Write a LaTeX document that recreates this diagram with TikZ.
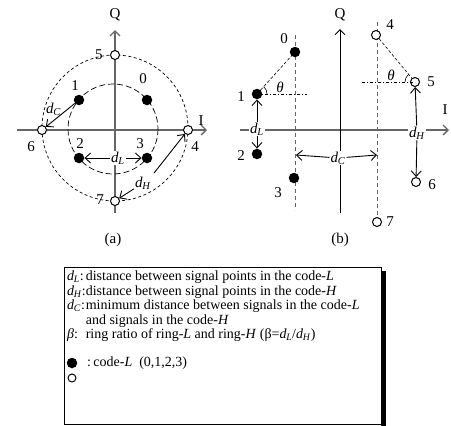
\documentclass[tikz,border=0pt]{standalone}
\usepackage{fontspec}
\setmainfont{Liberation Serif}
\usetikzlibrary{arrows.meta,positioning,calc}

\newcommand{\dsym}[1]{\textit{d}\textsubscript{\kern-0.3pt\textit{#1}}}

\tikzset{
  fillpt/.style={circle, fill=black, inner sep=0pt, minimum size=10.5pt},
  openpt/.style={circle, draw=black, fill=white, line width=1pt, inner sep=0pt, minimum size=9pt},
  axisg/.style={draw=black!60, line width=1.3pt, -{Straight Barb[length=5pt,width=10pt]}},
  sig/.style={-{Straight Barb[length=5.5pt,width=10pt]}, line width=0.9pt},
  lbl/.style={font=\fontsize{15}{17}\selectfont, inner sep=1pt},
  wlbl/.style={lbl, fill=white},
  legtext/.style={font=\fontsize{14}{14.6}\selectfont, inner sep=0pt},
}

\begin{document}
\begin{tikzpicture}[x=1pt, y=-1pt]
  \useasboundingbox (0,0) rectangle (451,426);

  % (a) the two rings
  \draw[axisg] (17,130) -- (207,130);
  \draw[axisg] (115,213) -- (115,30);
  \node[lbl] (qa) at (115,15) {Q};
  \node[lbl] (ia) at (201,121) {I};
  \draw[line width=0.7pt, dash pattern=on 3pt off 2.5pt] (115,128) circle [radius=73];
  \draw[line width=0.7pt, dash pattern=on 6pt off 3pt] (113,129) circle [radius=45];

  \node[fillpt] (a0) at (147,100) {};
  \node[fillpt] (a1) at (79,100) {};
  \node[fillpt] (a2) at (79,158) {};
  \node[fillpt] (a3) at (147,158) {};
  \node[openpt] (a4) at (188,130) {};
  \node[openpt] (a5) at (115,55) {};
  \node[openpt] (a6) at (42,130) {};
  \node[openpt] (a7) at (115,201) {};

  \node[lbl] at (143,79) {0};
  \node[lbl] at (75,86) {1};
  \node[lbl] at (80,144) {2};
  \node[lbl] at (140,144) {3};
  \node[lbl] at (195,147) {4};
  \node[lbl] at (99,55) {5};
  \node[lbl] at (31,147) {6};
  \node[lbl] at (100,200) {7};

  % distances in (a)
  \draw[sig, {Straight Barb[length=5.5pt,width=10pt]}-] (a6) -- (a1)
    node[lbl, midway, above left=-3pt] (dCa) {\dsym{C}};
  \node[wlbl] (dLa) at (118,158) {\dsym{L}};
  \draw[sig] (dLa) -- (a2);
  \draw[sig] (dLa) -- (a3);
  \node[lbl] (dHa) at (143,183) {\dsym{H}};
  \draw[sig, shorten <=3pt] (dHa.north east) -- (a4);
  \draw[sig] (dHa) -- (a7);
  \node[lbl] at (113,240) {(a)};

  % (b) the two codes side by side
  \draw[axisg] (240,130) -- (449,130);
  \draw[line width=0.9pt, -{Straight Barb[length=5pt,width=10pt]}] (340,213) -- (340,29);
  \node[lbl] (qb) at (340,15) {Q};
  \node[lbl] (ib) at (445,110) {I};
  \draw[black!60, line width=1pt, dash pattern=on 4pt off 3pt] (295,35) -- (295,210);
  \draw[black!60, line width=1pt, dash pattern=on 4pt off 3pt] (377,22) -- (377,217);

  \node[fillpt] (b0) at (295,52) {};
  \node[fillpt] (b1) at (257,94) {};
  \node[fillpt] (b2) at (257,154) {};
  \node[fillpt] (b3) at (294,178) {};
  \node[openpt] (b4) at (376,35) {};
  \node[openpt] (b5) at (415,82) {};
  \node[openpt] (b6) at (416,182) {};
  \node[openpt] (b7) at (377,222) {};

  \node[lbl] at (284,39) {0};
  \node[lbl] at (241,97) {1};
  \node[lbl] at (241,156) {2};
  \node[lbl] at (278,193) {3};
  \node[lbl] at (390,25) {4};
  \node[lbl] at (431,82) {5};
  \node[lbl] at (432,185) {6};
  \node[lbl] at (390,222) {7};

  % angle theta
  \draw[line width=0.6pt, dash pattern=on 3pt off 2pt] (b1) -- (b0);
  \draw[line width=0.6pt, dash pattern=on 3pt off 2pt on 1pt off 2pt] (b1.center) -- (307,94);
  \draw[line width=0.6pt] (b1.center) ++(10,0) arc[start angle=0, end angle=-48, radius=10];
  \node[lbl] at (280,87) {\textit{θ}};
  \draw[line width=0.6pt, dash pattern=on 3pt off 2pt] (b4) -- (b5);
  \draw[line width=0.6pt, dash pattern=on 3pt off 2pt on 1pt off 2pt] (362,82) -- (b5.center);
  \draw[line width=0.6pt] (b5.center) ++(-10,0) arc[start angle=-180, end angle=-130, radius=10];
  \node[lbl] at (391,75) {\textit{θ}};

  % distances in (b)
  \node[wlbl] (dLb) at (257,129) {\dsym{L}};
  \draw[sig] (dLb) -- (b1);
  \draw[sig] (dLb) -- (b2);
  \node[wlbl] (dHb) at (417,133) {\dsym{H}};
  \draw[sig] (dHb) -- (b5);
  \draw[sig] (dHb) -- (b6);
  \coordinate (cl) at (296,155);
  \coordinate (cr) at (377,155);
  \node[wlbl] (dCb) at (338,158) {\dsym{C}};
  \draw[sig] (dCb) -- (cl);
  \draw[sig] (dCb) -- (cr);
  \node[lbl] at (340,240) {(b)};

  % legend
  \fill[black] (381,271) rectangle (386,426);
  \draw[line width=0.8pt, fill=white] (64,267) rectangle (381,424);
  \node[legtext, anchor=north west] (defs) at (67,270) {%
    \begin{tabular}{@{}l@{}l@{}}
      \dsym{L}:&distance between signal points in the code-\textit{L}\\
      \dsym{H}:&distance between signal points in the code-\textit{H}\\
      \dsym{C}:&minimum distance between signals in the code-\textit{L}\\
      &and signals in the code-\textit{H}\\
      \textit{β}:&ring ratio of ring-\textit{L} and ring-\textit{H} (β=\dsym{L}/\dsym{H})
    \end{tabular}};
  \node[fillpt] (keyL) at (72,363) {};
  \node[legtext, anchor=west] (keyLtxt) at (87,363) {:\,code-\textit{L}\ \ (0,1,2,3)};
  \node[openpt, minimum size=8pt] (keyH) at (72,378) {};
\end{tikzpicture}
\end{document}
